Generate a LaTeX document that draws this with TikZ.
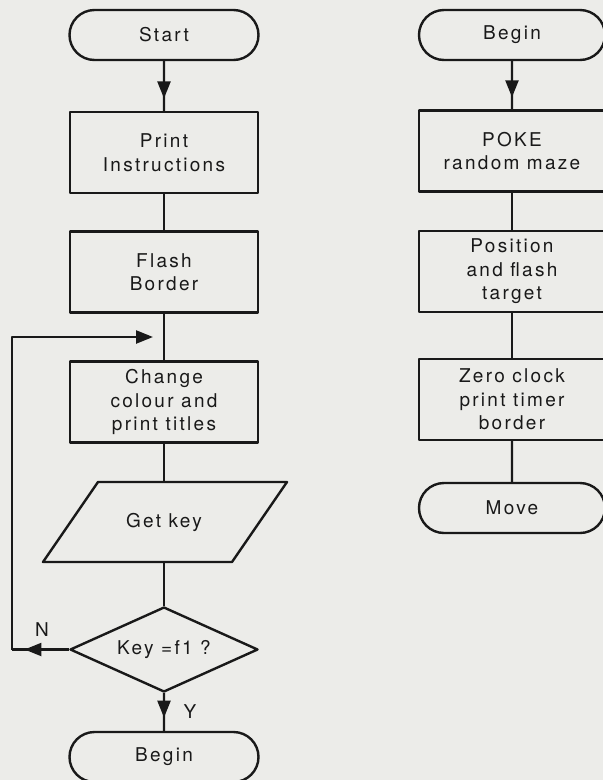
\documentclass[tikz,border=0pt]{standalone}
\usepackage{fontspec}
\setmainfont[LetterSpace=12]{TeX Gyre Heros}
\usetikzlibrary{shapes.geometric,shapes.misc,arrows.meta,decorations.markings}

\definecolor{scangray}{RGB}{236,236,233}
\definecolor{inkblack}{RGB}{25,25,25}

\begin{document}
\begin{tikzpicture}[
    x=1pt, y=-1pt,
    font=\fontsize{19}{23.5}\selectfont,
    >={Triangle[length=17pt,width=13pt]},
    line join=round,
    every node/.style={align=center, inner sep=0pt, text=inkblack},
    flowbox/.style={draw=inkblack, line width=2.4pt, rectangle,
        minimum width=188pt, minimum height=81pt},
    terminal/.style={draw=inkblack, line width=2.4pt, rounded rectangle,
        minimum width=189pt, minimum height=50pt},
    inputbox/.style={minimum width=189pt, minimum height=80pt},
    decision/.style={draw=inkblack, line width=2.4pt, diamond, aspect=2.2,
        minimum width=188pt, minimum height=85pt},
    link/.style={draw=inkblack, line width=2.4pt},
    midarrow/.style={postaction={decorate,decoration={markings,
        mark=at position #1 with {\arrow{Triangle[length=17pt,width=13pt]}}}}}
]

% ========= Paper =========
\fill[scangray] (0,0) rectangle (603,780);
\useasboundingbox (0,0) rectangle (603,780);
\clip (0,0) rectangle (603,780);

% ========= Left chart =========
\node[terminal] (start) at (164,35) {Start};
\node[flowbox] (print) at (164,152.5) {Print\\Instructions};
\node[flowbox] (flash) at (164,272) {Flash\\Border};
\node[flowbox] (change) at (164,402) {Change\\colour and\\print titles};
\node[inputbox] (getkey) at (164,522) {Get key};
% parallelogram round the input node
\draw[link] ([shift={(-121,40)}]getkey.center) -- ([shift={(-66,-40)}]getkey.center)
    -- ([shift={(123,-40)}]getkey.center) -- ([shift={(68,40)}]getkey.center) -- cycle;
\node[decision] (keytest) at (164,649.5) {Key =f1 ?};
\node[terminal] (begin) at (164,757) {Begin};

\node (nlabel) at (42,630) {N};
\node (ylabel) at (190,712) {Y};

\coordinate (nturn) at (12,649.5);
\coordinate (loopin) at (153,337);

% ========= Right chart =========
\node[terminal, minimum width=186pt] (begintwo) at (512,35) {Begin};
\node[flowbox, minimum width=186pt] (poke) at (512,151) {POKE\\random maze};
\node[flowbox, minimum width=186pt] (target) at (512,271.5) {Position\\and flash\\target};
\node[flowbox, minimum width=186pt] (clock) at (512,399.5) {Zero clock\\print timer\\border};
\node[terminal, minimum width=186pt] (move) at (512,508) {Move};

% ========= Connectors =========
\draw[link, midarrow=0.75] (start) -- (print);
\draw[link] (print) -- (flash);
\draw[link] (flash) -- (change);
\draw[link] (change) -- (getkey);
\draw[link] (getkey) -- (keytest);
\draw[link, midarrow=0.65] (keytest) -- (begin);
\draw[link, midarrow=0.78] (keytest) -- (nturn);
\draw[link, ->] (nturn) |- (loopin);

\draw[link, midarrow=0.75] (begintwo) -- (poke);
\draw[link] (poke) -- (target);
\draw[link] (target) -- (clock);
\draw[link] (clock) -- (move);

\end{tikzpicture}
\end{document}
